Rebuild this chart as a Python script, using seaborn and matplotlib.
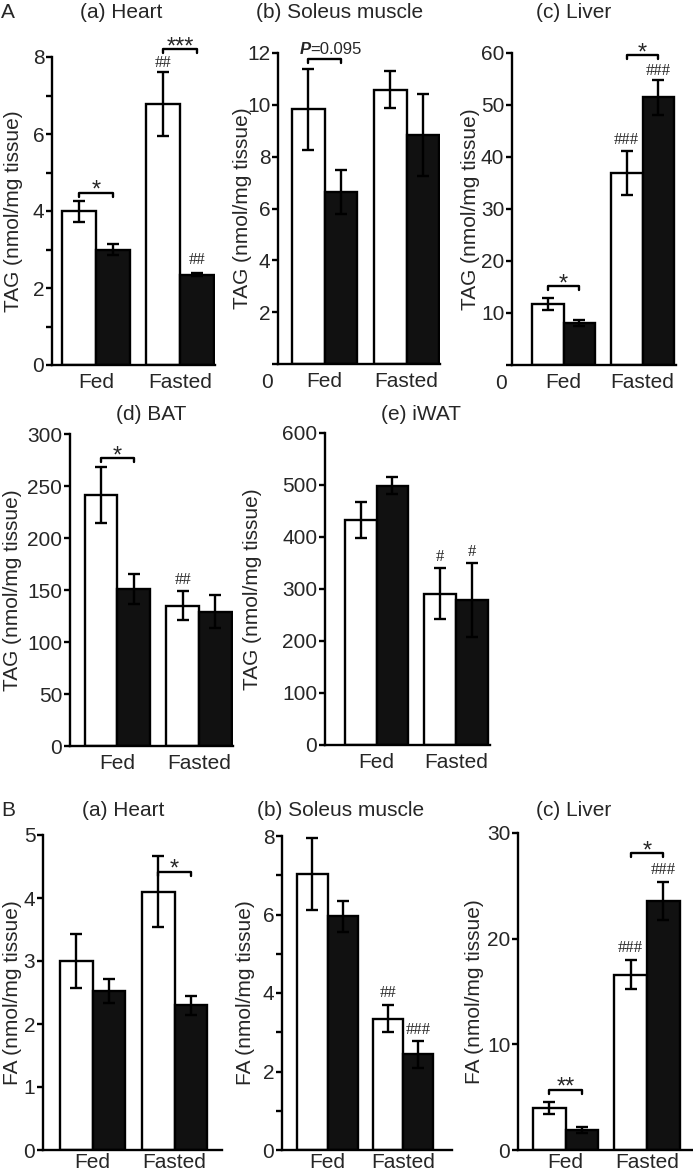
import pandas as pd
import seaborn as sb
import matplotlib.pyplot as plt

# categories / groups
conditions = ['Fed', 'Fasted']
groups = ['open', 'filled']   # white bars, black bars

# values: [open bars], [filled bars]
tag_heart = [[3.99, 6.78], [3.00, 2.35]]
tag_heart_err = [[0.28, 0.82], [0.13, 0.03]]
tag_soleus = [[9.83, 10.58], [6.64, 8.84]]
tag_soleus_err = [[1.56, 0.72], [0.85, 1.57]]
tag_liver = [[11.7, 36.9], [8.1, 51.5]]
tag_liver_err = [[1.2, 4.3], [0.6, 3.4]]
tag_bat = [[241, 135], [151, 129]]
tag_bat_err = [[27, 14], [14, 16]]
tag_iwat = [[433, 291], [499, 279]]
tag_iwat_err = [[35, 49], [17, 71]]
fa_heart = [[3.00, 4.10], [2.53, 2.30]]
fa_heart_err = [[0.43, 0.56], [0.19, 0.15]]
fa_soleus = [[7.03, 3.35], [5.95, 2.44]]
fa_soleus_err = [[0.92, 0.35], [0.40, 0.34]]
fa_liver = [[4.0, 16.6], [1.9, 23.6]]
fa_liver_err = [[0.55, 1.4], [0.30, 1.8]]

sb.set_style('ticks')
plt.rcParams['font.family'] = ['Liberation Sans', 'DejaVu Sans']

W, H = 693, 1176
LW = 1.7
fig = plt.figure(figsize=(W / 100, H / 100), dpi=100)


def panel(box, means, errs, ymax, step, minor, ylabel, label_x, hide_zero=False, xpad=6):
    # box: spine x, axis end x, top y, bottom y, Fed centre x, Fasted centre x (pixels)
    spine, end, top, bottom, fed_px, fast_px = box
    ax = fig.add_axes([spine / W, 1 - bottom / H, (end - spine) / W, (bottom - top) / H])
    df = pd.DataFrame({'cond': conditions * 2,
                       'grp': [groups[0]] * 2 + [groups[1]] * 2,
                       'val': means[0] + means[1]})
    sb.barplot(data=df, x='cond', y='val', hue='grp', order=conditions, hue_order=groups,
               palette={'open': 'white', 'filled': '#111111'}, saturation=1,
               edgecolor='black', linewidth=LW, width=0.8, errorbar=None,
               legend=False, ax=ax, zorder=2)
    centers = [[b.get_x() + b.get_width() / 2 for b in c] for c in ax.containers]
    for i in range(2):
        ax.errorbar(centers[i], means[i], yerr=errs[i], fmt='none', ecolor='black',
                    elinewidth=LW, capsize=4, capthick=LW, zorder=3)
    unit = fast_px - fed_px
    ax.set_xlim((spine - fed_px) / unit, 1 + (end - fast_px) / unit)
    ax.set_ylim(0, ymax)
    ticks = [i * step for i in range(int(round(ymax / step)) + 1)]
    ax.set_yticks(ticks)
    labels = [str(t) for t in ticks]
    if hide_zero:
        labels[0] = ''
        ax.annotate('0', (0, 0), xycoords='axes fraction', xytext=(-8, -13),
                    textcoords='offset points', ha='center', va='center', fontsize=15)
    ax.set_yticklabels(labels)
    if minor:
        ax.set_yticks([minor * (2 * i + 1) for i in range(len(ticks) - 1)], minor=True)
    sb.despine(ax=ax)
    for s in ['left', 'bottom']:
        ax.spines[s].set_linewidth(LW)
        ax.spines[s].set_color('black')
    ax.tick_params(axis='y', which='both', direction='out', length=4.5, width=LW,
                   labelsize=15, pad=1, color='black')
    ax.tick_params(axis='x', length=0, labelsize=15, pad=xpad)
    ax.set_xlabel('')
    ax.set_ylabel(ylabel, fontsize=15)
    ax.yaxis.set_label_coords((label_x - spine) / (end - spine), 0.5)
    return ax, centers


def bracket(ax, centers, c, y, label):
    x0, x1 = centers[0][c], centers[1][c]
    drop = 4 * ax.get_ylim()[1] / ax.bbox.height
    ax.plot([x0, x0, x1, x1], [y - drop, y, y, y - drop], color='black', lw=LW,
            clip_on=False, zorder=4)
    if label:
        ax.annotate(label, ((x0 + x1) / 2, y), xytext=(0, -3), textcoords='offset points',
                    ha='center', va='baseline', fontsize=17, annotation_clip=False)


def hashes(ax, centers, c, g, y, label):
    ax.text(centers[g][c], y, label, ha='center', va='center', fontsize=12,
            family=['Liberation Serif', 'DejaVu Serif'])


# ---- A: TAG ----
ax, cx = panel((52, 215, 57, 365, 96, 180), tag_heart, tag_heart_err, 8, 2, 1,
               'TAG (nmol/mg tissue)', 23)
bracket(ax, cx, 0, 4.48, '*')
bracket(ax, cx, 1, 8.2, '***')
hashes(ax, cx, 1, 0, 7.85, '##')
hashes(ax, cx, 1, 1, 2.72, '##')

ax, cx = panel((278, 440, 53, 364, 324.5, 406.5), tag_soleus, tag_soleus_err, 12, 2, None,
               'TAG (nmol/mg tissue)', 252, hide_zero=True)
bracket(ax, cx, 0, 11.76, None)
mid = (cx[0][0] + cx[1][0]) / 2
ax.annotate('P', (mid, 11.76), xytext=(-10, 4), textcoords='offset points', ha='right',
            va='baseline', fontsize=12, fontweight='bold', style='italic',
            annotation_clip=False)
ax.annotate('=0.095', (mid, 11.76), xytext=(-10, 4), textcoords='offset points', ha='left',
            va='baseline', fontsize=12, annotation_clip=False)

ax, cx = panel((512, 676, 53, 365, 563.5, 642.5), tag_liver, tag_liver_err, 60, 10, None,
               'TAG (nmol/mg tissue)', 480, hide_zero=True)
bracket(ax, cx, 0, 15.2, '*')
bracket(ax, cx, 1, 59.6, '*')
hashes(ax, cx, 1, 0, 43.3, '###')
hashes(ax, cx, 1, 1, 56.6, '###')

ax, cx = panel((70, 233, 434, 746, 117.5, 199), tag_bat, tag_bat_err, 300, 50, None,
               'TAG (nmol/mg tissue)', 22)
bracket(ax, cx, 0, 277, '*')
hashes(ax, cx, 1, 0, 160, '##')

ax, cx = panel((325, 490, 433, 745, 376.5, 456), tag_iwat, tag_iwat_err, 600, 100, None,
               'TAG (nmol/mg tissue)', 262)
hashes(ax, cx, 1, 0, 361, '#')
hashes(ax, cx, 1, 1, 371, '#')

# ---- B: FA ----
ax, cx = panel((43, 222, 835, 1150, 92.5, 174.5), fa_heart, fa_heart_err, 5, 1, None,
               'FA (nmol/mg tissue)', 22, xpad=2)
bracket(ax, cx, 1, 4.42, '*')

ax, cx = panel((282, 452, 836, 1150, 327.5, 403), fa_soleus, fa_soleus_err, 8, 2, 1,
               'FA (nmol/mg tissue)', 255, xpad=2)
hashes(ax, cx, 1, 0, 4.0, '##')
hashes(ax, cx, 1, 1, 3.05, '###')

ax, cx = panel((518, 692, 833, 1150, 565.5, 647), fa_liver, fa_liver_err, 30, 10, None,
               'FA (nmol/mg tissue)', 484, xpad=2)
bracket(ax, cx, 0, 5.7, '**')
bracket(ax, cx, 1, 28.1, '*')
hashes(ax, cx, 1, 0, 19.1, '###')
hashes(ax, cx, 1, 1, 26.5, '###')

# titles and panel letters (pixel positions)
titles = [('A', 8, 13), ('(a) Heart', 121, 13), ('(b) Soleus muscle', 340, 13),
          ('(c) Liver', 574, 13), ('(d) BAT', 151, 415), ('(e) iWAT', 421, 415),
          ('B', 8, 811), ('(a) Heart', 123, 811), ('(b) Soleus muscle', 341, 811),
          ('(c) Liver', 574, 811)]
for t, x, y in titles:
    fig.text(x / W, 1 - y / H, t, ha='center', va='center', fontsize=15)

fig.savefig('out.png', dpi=100)
